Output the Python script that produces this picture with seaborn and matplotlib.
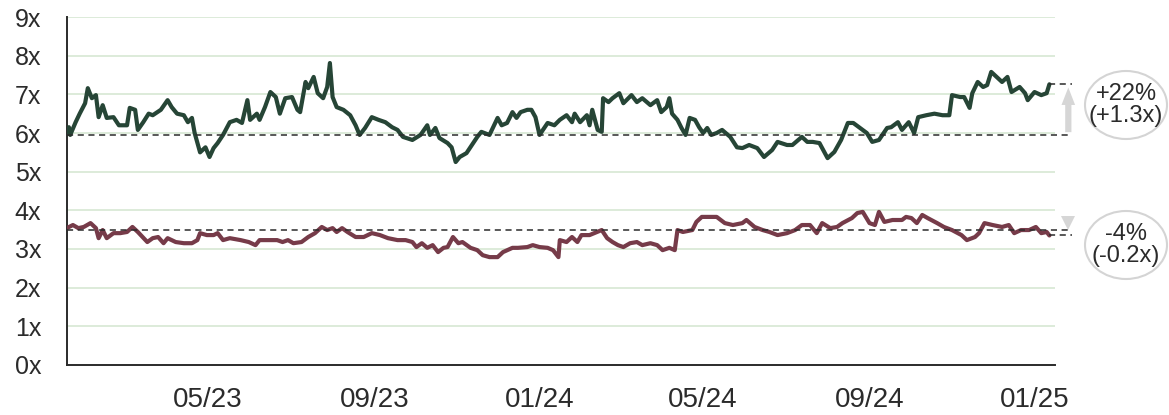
import pandas as pd  # For dates
import seaborn as sns  # For the line plots
import matplotlib.pyplot as plt  # For the figure
import matplotlib.dates as mdates  # For date ticks
from matplotlib.patches import Ellipse  # For the ringed labels

# Day numbers counted from 2023-01-01
green_days = [16, 17, 18, 22, 25, 29, 31, 34, 37, 39, 42, 45, 50, 54, 60, 62, 66, 68, 72, 76,
              79, 85, 90, 93, 97, 102, 105, 108, 110, 114, 118, 121, 124, 127, 131, 136, 141, 145, 149, 151,
              156, 158, 162, 166, 170, 173, 177, 182, 186, 188, 192, 194, 198, 201, 205, 208, 210, 212, 215, 220,
              225, 229, 232, 236, 241, 246, 251, 256, 260, 264, 271, 277, 282, 284, 288, 291, 297, 300, 303, 306,
              311, 315, 319, 322, 328, 334, 337, 341, 345, 348, 351, 356, 359, 362, 365, 371, 376, 380, 385, 389,
              391, 395, 400, 402, 404, 408, 411, 412, 416, 419, 424, 427, 433, 437, 441, 447, 452, 455, 459, 461,
              463, 467, 470, 473, 476, 480, 483, 486, 489, 492, 496, 500, 506, 511, 515, 520, 526, 531, 537, 541,
              548, 552, 559, 563, 567, 572, 578, 583, 588, 593, 597, 602, 607, 611, 616, 622, 625, 630, 633, 638,
              642, 645, 651, 657, 663, 668, 670, 676, 679, 683, 685, 689, 693, 696, 699, 703, 707, 711, 714, 720,
              724, 726, 731, 736, 740, 742]
green_vals = [5.97, 6.15, 5.95, 6.28, 6.50, 6.77, 7.16, 6.90, 6.98, 6.41, 6.72, 6.39, 6.41, 6.20, 6.20, 6.65, 6.60, 6.08, 6.28, 6.50,
              6.46, 6.60, 6.85, 6.67, 6.50, 6.46, 6.28, 6.39, 6.00, 5.50, 5.63, 5.38, 5.61, 5.74, 5.95, 6.28, 6.34, 6.26, 6.85, 6.34,
              6.50, 6.34, 6.67, 7.06, 6.93, 6.50, 6.90, 6.93, 6.60, 6.54, 7.32, 7.16, 7.45, 7.03, 6.90, 7.19, 7.81, 6.93, 6.67, 6.60,
              6.46, 6.20, 5.95, 6.13, 6.41, 6.34, 6.28, 6.15, 6.08, 5.90, 5.82, 5.95, 6.20, 5.95, 6.13, 5.87, 5.74, 5.63, 5.25, 5.38,
              5.48, 5.69, 5.90, 6.03, 5.95, 6.39, 6.20, 6.26, 6.54, 6.39, 6.54, 6.60, 6.60, 6.41, 5.95, 6.26, 6.20, 6.34, 6.46, 6.28,
              6.50, 6.28, 6.46, 6.20, 6.60, 6.08, 6.03, 6.90, 6.80, 6.90, 7.03, 6.77, 6.98, 6.80, 6.90, 6.72, 6.85, 6.54, 6.67, 6.90,
              6.50, 6.34, 6.13, 5.95, 6.39, 6.34, 6.15, 6.00, 6.13, 5.95, 6.00, 6.08, 5.90, 5.63, 5.61, 5.69, 5.61, 5.38, 5.56, 5.77,
              5.69, 5.69, 5.90, 5.77, 5.77, 5.74, 5.35, 5.51, 5.82, 6.26, 6.26, 6.13, 6.00, 5.77, 5.82, 6.13, 6.15, 6.28, 6.08, 6.28,
              6.00, 6.41, 6.46, 6.50, 6.46, 6.46, 6.98, 6.93, 6.93, 6.65, 7.03, 7.32, 7.19, 7.24, 7.58, 7.45, 7.32, 7.45, 7.06, 7.19,
              7.03, 6.85, 7.06, 6.98, 7.03, 7.26]

maroon_days = [16, 20, 24, 28, 33, 37, 39, 42, 45, 50, 55, 60, 64, 68, 75, 79, 83, 87, 90, 96,
               102, 108, 112, 114, 119, 124, 127, 131, 136, 144, 150, 155, 158, 164, 171, 175, 179, 183, 189, 194,
               199, 204, 208, 212, 215, 219, 223, 229, 235, 241, 247, 253, 260, 266, 271, 274, 278, 282, 286, 290,
               294, 297, 301, 305, 308, 314, 319, 323, 328, 334, 338, 345, 349, 356, 360, 365, 371, 375, 379, 380,
               385, 389, 393, 396, 402, 411, 415, 419, 423, 427, 432, 437, 441, 447, 452, 456, 461, 465, 467, 471,
               478, 481, 485, 491, 496, 502, 508, 515, 518, 524, 530, 535, 541, 548, 554, 559, 565, 570, 574, 580,
               585, 589, 596, 600, 604, 609, 613, 616, 620, 626, 633, 636, 640, 644, 648, 652, 659, 664, 670, 677,
               681, 687, 690, 694, 700, 707, 712, 716, 721, 727, 732, 736, 740, 742]
maroon_vals = [3.55, 3.62, 3.54, 3.57, 3.67, 3.54, 3.28, 3.49, 3.28, 3.41, 3.41, 3.44, 3.57, 3.44, 3.18, 3.28, 3.31, 3.15, 3.28, 3.18,
               3.15, 3.15, 3.23, 3.41, 3.36, 3.36, 3.41, 3.23, 3.28, 3.23, 3.18, 3.10, 3.23, 3.23, 3.23, 3.18, 3.23, 3.15, 3.18, 3.31,
               3.41, 3.57, 3.49, 3.54, 3.44, 3.54, 3.44, 3.31, 3.31, 3.41, 3.36, 3.28, 3.23, 3.23, 3.18, 3.05, 3.15, 3.03, 3.10, 2.92,
               3.03, 3.05, 3.31, 3.15, 3.18, 3.03, 2.97, 2.84, 2.79, 2.79, 2.92, 3.03, 3.03, 3.05, 3.10, 3.05, 3.03, 2.97, 2.79, 3.23,
               3.18, 3.31, 3.18, 3.36, 3.36, 3.49, 3.28, 3.18, 3.10, 3.05, 3.15, 3.18, 3.10, 3.15, 3.10, 2.97, 3.03, 2.97, 3.49, 3.44,
               3.49, 3.70, 3.83, 3.83, 3.83, 3.67, 3.62, 3.67, 3.75, 3.57, 3.49, 3.44, 3.36, 3.41, 3.49, 3.62, 3.62, 3.41, 3.67, 3.54,
               3.57, 3.67, 3.80, 3.93, 3.96, 3.67, 3.62, 3.96, 3.70, 3.75, 3.75, 3.83, 3.80, 3.67, 3.88, 3.80, 3.67, 3.57, 3.49, 3.36,
               3.23, 3.31, 3.41, 3.67, 3.62, 3.57, 3.62, 3.41, 3.49, 3.49, 3.57, 3.41, 3.44, 3.35]

# Reference levels (start / end) and the change labels
green_start, green_end = 5.95, 7.27
maroon_start, maroon_end = 3.49, 3.35
green_label = "+22%\n(+1.3x)"
maroon_label = "-4%\n(-0.2x)"

y_ticks = [0, 1, 2, 3, 4, 5, 6, 7, 8, 9]
y_ticklabels = ["0x", "1x", "2x", "3x", "4x", "5x", "6x", "7x", "8x", "9x"]

base = pd.Timestamp("2023-01-01")
green_df = pd.DataFrame({"date": base + pd.to_timedelta(green_days, unit="D"), "val": green_vals})
maroon_df = pd.DataFrame({"date": base + pd.to_timedelta(maroon_days, unit="D"), "val": maroon_vals})

sns.set_style("white")
plt.rcParams["font.family"] = ["Liberation Sans", "DejaVu Sans"]

fig = plt.figure(figsize=(11.69, 4.15), dpi=100)
ax = fig.add_axes([0.0573, 0.1205, 0.845, 0.8385])

green = "#264536"
maroon = "#763b49"
grid_c = "#d3e6d0"
dark = "#2b2b2b"
arrow_c = "#d6d6d6"

# Horizontal grid
for y in y_ticks[1:]:
    ax.axhline(y, color=grid_c, lw=1.1, zorder=0)

sns.lineplot(data=green_df, x="date", y="val", color=green, lw=3.0, ax=ax, zorder=3)
sns.lineplot(data=maroon_df, x="date", y="val", color=maroon, lw=3.0, ax=ax, zorder=3)

x0 = base + pd.Timedelta(days=15.6)
x1 = base + pd.Timedelta(days=746)
x_dash_end = base + pd.Timedelta(days=758.5)
x_short = base + pd.Timedelta(days=742)
x_arrow = base + pd.Timedelta(days=756)

# Dashed start / end reference lines
dash = dict(color=dark, lw=1.1, ls=(0, (4, 3)), clip_on=False, zorder=4)
ax.plot([x0, x_dash_end], [green_start, green_start], **dash)
ax.plot([x_short, x_dash_end], [green_end, green_end], **dash)
ax.plot([x0, x_dash_end], [maroon_start, maroon_start], **dash)
ax.plot([x_short, x_dash_end], [maroon_end, maroon_end], **dash)

# Grey change arrows
ax.annotate("", xy=(x_arrow, green_end - 0.02), xytext=(x_arrow, green_start),
            arrowprops=dict(arrowstyle="simple,head_length=0.9,head_width=0.7,tail_width=0.32",
                            mutation_scale=14, color=arrow_c, lw=0), annotation_clip=False)
ax.plot([x_arrow], [maroon_start + 0.19], marker="v", ms=10, color=arrow_c, mew=0, clip_on=False)

# Ringed labels
for cy, label in [(105, green_label), (245, maroon_label)]:
    cx = 1126
    fig.add_artist(Ellipse((cx / 1169, 1 - cy / 415), 82 / 1169, 68 / 415,
                           transform=fig.transFigure, fc="white", ec="#d4d4d4", lw=1.5))
    fig.text(cx / 1169, 1 - cy / 415, label, ha="center", va="center",
             fontsize=17, color=dark, linespacing=1.05)

ax.set_xlim(x0, x1)
ax.set_ylim(0, 9)
ax.set_yticks(y_ticks)
ax.set_yticklabels(y_ticklabels)
ax.xaxis.set_major_locator(mdates.MonthLocator(bymonth=[1, 5, 9]))
ax.xaxis.set_major_formatter(mdates.DateFormatter("%m/%y"))
ax.set_xlabel("")
ax.set_ylabel("")

sns.despine(ax=ax)
for s in ["left", "bottom"]:
    ax.spines[s].set_color(dark)
    ax.spines[s].set_linewidth(1.4)
ax.tick_params(axis="y", length=6.5, width=1.3, color=dark, pad=12, labelsize=18, labelcolor=dark)
ax.tick_params(axis="x", length=6, width=1.3, color=dark, pad=10, labelsize=20, labelcolor=dark)

fig.savefig("out.png", dpi=100)
